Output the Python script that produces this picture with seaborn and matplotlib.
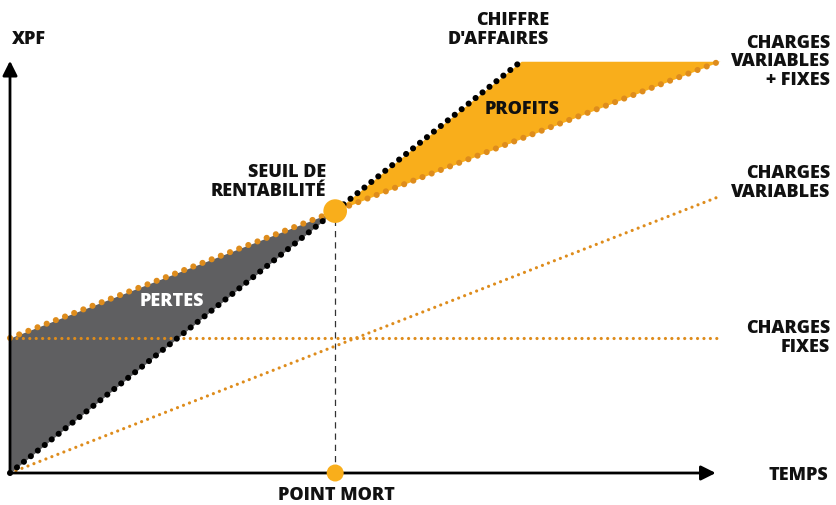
import matplotlib
matplotlib.use("Agg")
import matplotlib.pyplot as plt
import seaborn as sns
import numpy as np
import pandas as pd

# ---- data (abstract units) ----
temps = [0.0, 45.8, 72.0, 100.0]
charges_fixes = [30.0, 30.0, 30.0, 30.0]
charges_variables = [0.0, 28.2, 44.3, 61.5]
charges_totales = [30.0, 58.2, 74.3, 91.5]
chiffre_affaires = [0.0, 58.2, 91.5, 91.5]
seuil_t = 45.8
seuil_v = 58.2

df = pd.DataFrame({"t": temps, "cf": charges_fixes, "cv": charges_variables,
                   "ct": charges_totales, "ca": chiffre_affaires})

sns.set_theme(style="white")
plt.rcParams["font.family"] = ["Open Sans", "DejaVu Sans"]

fig = plt.figure(figsize=(8.36, 5.05), dpi=100)
ax = fig.add_axes([0, 0, 1, 1])
ax.set_xlim(-10 / 7.1, 826 / 7.1)
ax.set_ylim(-32 / 4.5, 473 / 4.5)
ax.axis("off")

ORANGE_DOT = "#DE8C1C"
GOLD = "#F9AE1B"
GREY = "#5F5F61"

t = np.array(temps)
ct = np.array(charges_totales)
ca = np.array(chiffre_affaires)

# fills
mask_loss = t <= seuil_t
ax.fill_between(t[mask_loss], ct[mask_loss], ca[mask_loss], color=GREY, lw=0, zorder=1)
mask_prof = t >= seuil_t
ax.fill_between(t[mask_prof], ct[mask_prof], ca[mask_prof], color=GOLD, lw=0, zorder=1)

# lines
sns.lineplot(data=df, x="t", y="cf", ax=ax, color=ORANGE_DOT, lw=2.3,
             linestyle=(0, (0.01, 2.0)), dash_capstyle="round", zorder=3)
sns.lineplot(data=df, x="t", y="cv", ax=ax, color=ORANGE_DOT, lw=2.3,
             linestyle=(0, (0.01, 2.0)), dash_capstyle="round", zorder=3)
sns.lineplot(data=df, x="t", y="ct", ax=ax, color=ORANGE_DOT, lw=4.4,
             linestyle=(0, (0.01, 1.6)), dash_capstyle="round", zorder=4)
df_ca = df[df["t"] <= 72.0]
sns.lineplot(data=df_ca, x="t", y="ca", ax=ax, color="black", lw=4.4,
             linestyle=(0, (0.01, 1.45)), dash_capstyle="round", zorder=5)

# vertical dashed line
ax.plot([seuil_t, seuil_t], [0, seuil_v], color="#333333", lw=0.9,
        linestyle=(0, (5, 4)), zorder=2)

# axes with arrows
ax.annotate("", xy=(99.4, 0), xytext=(0, 0),
            arrowprops=dict(arrowstyle="-|>", color="black", lw=2.0,
                            mutation_scale=22, shrinkA=0, shrinkB=0), zorder=6)
ax.annotate("", xy=(0, 91.6), xytext=(0, 0),
            arrowprops=dict(arrowstyle="-|>", color="black", lw=2.0,
                            mutation_scale=22, shrinkA=0, shrinkB=0), zorder=6)

# markers
sns.scatterplot(x=[seuil_t], y=[seuil_v], ax=ax, s=290, color=GOLD, edgecolor="none", zorder=8)
sns.scatterplot(x=[seuil_t], y=[0], ax=ax, s=150, color=GOLD, edgecolor="none", zorder=8)

# texts (positions in pixel coordinates via transform)
def px(x, y):
    return (x / 836, 1 - y / 505)

fs = 13
fw = 800
tk = dict(fontsize=fs, fontweight=fw, color="#111111", transform=fig.transFigure,
          linespacing=1.12)
fig.text(*px(12, 39), "XPF", ha="left", va="center", **tk)
fig.text(*px(549, 30), "CHIFFRE\nD'AFFAIRES", ha="right", va="center", multialignment="right", **tk)
fig.text(*px(830, 62), "CHARGES\nVARIABLES\n+ FIXES", ha="right", va="center", multialignment="right", **tk)
fig.text(*px(830, 183), "CHARGES\nVARIABLES", ha="right", va="center", multialignment="right", **tk)
fig.text(*px(830, 338), "CHARGES\nFIXES", ha="right", va="center", multialignment="right", **tk)
fig.text(*px(828, 476), "TEMPS", ha="right", va="center", **tk)
fig.text(*px(336, 496), "POINT MORT", ha="center", va="center", **tk)
fig.text(*px(326, 182), "SEUIL DE\nRENTABILITÉ", ha="right", va="center", multialignment="right", **tk)
fig.text(*px(172, 302), "PERTES", ha="center", va="center", fontsize=fs, fontweight=fw,
         color="white", transform=fig.transFigure)
fig.text(*px(522, 110), "PROFITS", ha="center", va="center", **tk)

fig.savefig("out.png", dpi=100)
